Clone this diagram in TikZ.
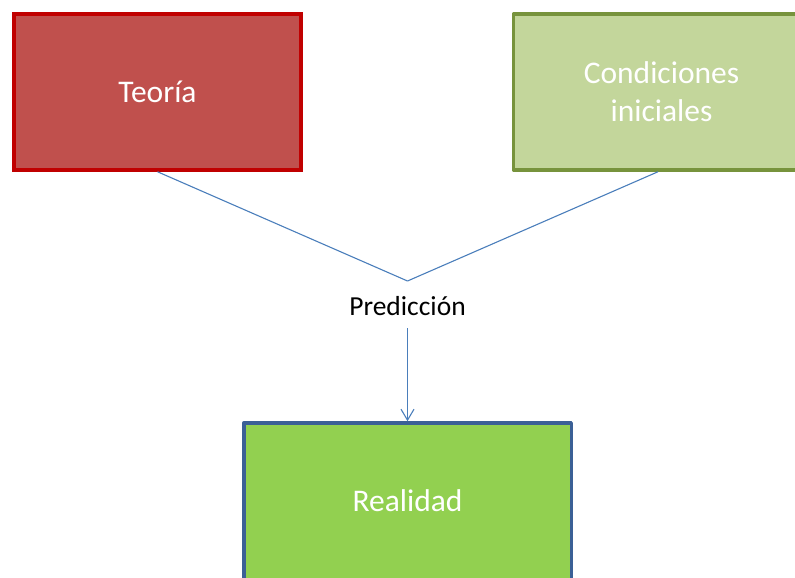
\documentclass[tikz,border=0pt]{standalone}
\usepackage{fontspec}
\setmainfont{Carlito}
\usetikzlibrary{arrows.meta}

\definecolor{teoriafill}{HTML}{C0504D}
\definecolor{teoriadraw}{HTML}{C00000}
\definecolor{condfill}{HTML}{C3D69B}
\definecolor{conddraw}{HTML}{77933C}
\definecolor{realfill}{HTML}{92D050}
\definecolor{realdraw}{HTML}{3B6096}
\definecolor{linea}{HTML}{4A7EBB}

\begin{document}
\begin{tikzpicture}[x=1pt,y=1pt,
  caja/.style={line width=3.5pt,outer sep=0pt,minimum width=287pt,minimum height=156pt,
    text=white,align=center,font=\fontsize{31.5}{38}\selectfont},
  borde/.style={line width=3.5pt,line join=round},
  flecha/.style={draw=linea,line width=1.1pt}]
\useasboundingbox (0,0) rectangle (795,-578);
\begin{scope}
\clip (0,0) rectangle (795,-578);
\node[caja,fill=teoriafill,draw=teoriadraw] (teoria) at (157.5,-92) {Teoría};
\node[caja,fill=condfill,minimum width=296pt] (cond) at (661.5,-92) {Condiciones\\iniciales};
\node[caja,fill=realfill,minimum width=327.5pt] (real) at (407.5,-501) {Realidad};
% bordes abiertos: el lado cortado queda fuera de la imagen
\draw[borde,conddraw] (cond.north east) -- (cond.north west) -- (cond.south west) -- (cond.south east);
\draw[borde,realdraw] (real.south west) -- (real.north west) -- (real.north east) -- (real.south east);
\end{scope}
\node[anchor=base,inner sep=13pt,font=\fontsize{27.5}{32}\selectfont] (pred) at (407.5,-315) {Predicción};
\coordinate (vertice) at (407.5,-281);
\draw[flecha] (teoria.south) ++(0,-1.75) -- (vertice);
\draw[flecha] (cond.south) ++(-3.5,-1.75) -- (vertice);
\draw[flecha,-{Straight Barb[length=11pt,width=13pt]}] (pred.south) -- ([yshift=1.75pt]real.north);
\end{tikzpicture}
\end{document}
